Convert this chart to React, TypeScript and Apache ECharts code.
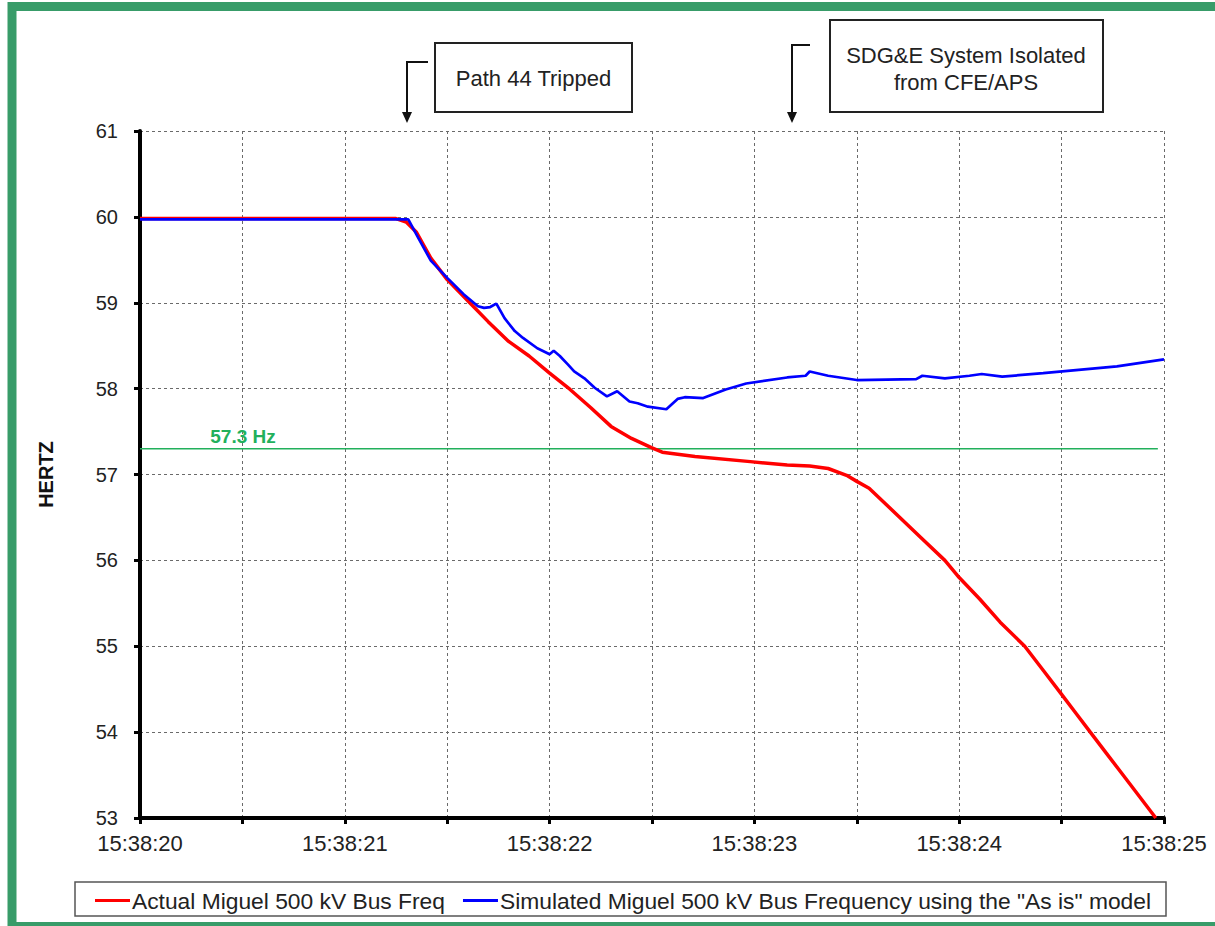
import React, { useEffect, useRef } from "react";
import * as echarts from "echarts";

// x values are seconds after 15:38:00
const xTickSeconds = [20, 21, 22, 23, 24, 25];
const xTickLabels = ["15:38:20", "15:38:21", "15:38:22", "15:38:23", "15:38:24", "15:38:25"];

const actualName = "Actual Miguel 500 kV Bus Freq";
const simName = 'Simulated Miguel 500 kV Bus Frequency using the "As is" model';

const actualT = [
  20, 21.25, 21.3, 21.35, 21.42, 21.5, 21.61, 21.7, 21.8, 21.9, 22.0, 22.1, 22.2, 22.3, 22.4, 22.5,
  22.55, 22.71, 22.98, 23.16, 23.27, 23.36, 23.45, 23.5, 23.56, 23.71, 23.82, 23.93, 24.0, 24.1,
  24.2, 24.32, 24.41, 24.5, 24.57, 24.64, 24.72, 24.8, 24.88, 24.96,
];
const actualHz = [
  59.98, 59.98, 59.94, 59.82, 59.52, 59.27, 59.0, 58.78, 58.55, 58.38, 58.18, 57.99, 57.78, 57.56,
  57.42, 57.31, 57.26, 57.21, 57.15, 57.11, 57.1, 57.07, 56.99, 56.92, 56.84, 56.5, 56.25, 56.0,
  55.8, 55.55, 55.28, 55.0, 54.72, 54.44, 54.22, 54.0, 53.75, 53.5, 53.25, 53.0,
];

const simT = [
  20, 21.31, 21.36, 21.42, 21.5, 21.58, 21.65, 21.68, 21.71, 21.74, 21.78, 21.83, 21.87, 21.94, 22.0,
  22.02, 22.05, 22.09, 22.12, 22.17, 22.22, 22.28, 22.33, 22.39, 22.43, 22.48, 22.57, 22.625, 22.66,
  22.75, 22.86, 22.96, 23.16, 23.25, 23.27, 23.36, 23.5, 23.79, 23.82, 23.93, 24.05, 24.11, 24.21,
  24.41, 24.77, 25.0,
];
const simHz = [
  59.97, 59.97, 59.75, 59.49, 59.29, 59.1, 58.96, 58.94, 58.95, 58.99, 58.82, 58.67, 58.59, 58.47,
  58.4, 58.44, 58.38, 58.28, 58.2, 58.12, 58.01, 57.91, 57.97, 57.85, 57.83, 57.79, 57.76, 57.88,
  57.9, 57.89, 57.99, 58.06, 58.13, 58.15, 58.2, 58.15, 58.1, 58.11, 58.15, 58.12, 58.15, 58.17,
  58.14, 58.18, 58.26, 58.34,
];

const thresholdHz = 57.3;
const thresholdT = [20, 24.97];
const thresholdLabel = "57.3 Hz";

const annotation1 = "Path 44 Tripped";
const annotation2 = ["SDG&E System Isolated", "from CFE/APS"];

const FONT = '"Liberation Sans", Arial, sans-serif';
const GREEN_BORDER = "#389c69";
const GREEN_LINE = "#22b05c";

export default function App() {
  const ref = useRef<HTMLDivElement>(null);

  useEffect(() => {
    if (!ref.current) return;
    const chart = echarts.init(ref.current, null, { renderer: "svg" });

    const actualData = actualT.map((t, i) => [t, actualHz[i]]);
    const simData = simT.map((t, i) => [t, simHz[i]]);
    const thrData = thresholdT.map((t) => [t, thresholdHz]);

    const gridStyle = { color: "#6a6a6a", width: 1, type: [3, 3] as any };

    chart.setOption({
      animation: false,
      backgroundColor: "#ffffff",
      textStyle: { fontFamily: FONT },
      grid: { left: 140, right: 51, top: 131, bottom: 108, containLabel: false },
      xAxis: {
        type: "value",
        min: 20,
        max: 25,
        interval: 0.5,
        axisLine: { show: true, lineStyle: { color: "#000", width: 4 } },
        axisTick: { show: true, length: 6, lineStyle: { color: "#000", width: 3 } },
        splitLine: { show: true, lineStyle: gridStyle },
        axisLabel: {
          fontSize: 22,
          color: "#222",
          margin: 14,
          fontFamily: FONT,
          formatter: (v: number) => {
            const i = xTickSeconds.findIndex((s) => Math.abs(s - v) < 1e-6);
            return i >= 0 ? xTickLabels[i] : "";
          },
        },
      },
      yAxis: {
        type: "value",
        min: 53,
        max: 61,
        interval: 1,
        name: "HERTZ",
        nameLocation: "middle",
        nameRotate: 90,
        nameGap: 84,
        nameTextStyle: { fontSize: 20, fontWeight: "bold", color: "#111", fontFamily: FONT },
        axisLine: { show: true, lineStyle: { color: "#000", width: 4 } },
        axisTick: { show: true, length: 6, lineStyle: { color: "#000", width: 3 } },
        splitLine: { show: true, lineStyle: gridStyle },
        axisLabel: { fontSize: 20, color: "#222", margin: 22, fontFamily: FONT },
      },
      legend: {
        left: 90,
        top: 884,
        itemWidth: 35,
        itemHeight: 3,
        itemGap: 18,
        icon: "rect",
        textStyle: { fontSize: 22.8, color: "#222", fontFamily: FONT, padding: [0, 0, 0, -3] },
        data: [
          { name: actualName, itemStyle: { color: "#ff0000" } },
          { name: simName, itemStyle: { color: "#0000ff" } },
        ],
      },
      series: [
        {
          name: actualName,
          type: "line",
          data: actualData,
          showSymbol: false,
          symbol: "none",
          lineStyle: { color: "#ff0000", width: 3.5 },
          itemStyle: { color: "#ff0000" },
          z: 3,
        },
        {
          name: simName,
          type: "line",
          data: simData,
          showSymbol: false,
          symbol: "none",
          lineStyle: { color: "#0000ff", width: 2.7 },
          itemStyle: { color: "#0000ff" },
          z: 4,
        },
        {
          name: "threshold",
          type: "line",
          data: thrData,
          showSymbol: false,
          symbol: "none",
          lineStyle: { color: GREEN_LINE, width: 1.5 },
          z: 2,
        },
      ],
      graphic: [
        // outer green frame
        {
          type: "rect",
          shape: { x: 12, y: 6.5, width: 1240, height: 920 },
          style: { fill: "none", stroke: GREEN_BORDER, lineWidth: 9 },
          z: 100,
        },
        // legend box
        {
          type: "rect",
          shape: { x: 75, y: 882, width: 1091, height: 34 },
          style: { fill: "none", stroke: "#555", lineWidth: 1.5 },
          z: 50,
        },
        // threshold label
        {
          type: "text",
          x: 243,
          y: 436,
          style: {
            text: thresholdLabel,
            fill: GREEN_LINE,
            font: `bold 19px ${FONT}`,
            align: "center",
            verticalAlign: "middle",
          },
          z: 60,
        },
        // annotation 1
        {
          type: "rect",
          shape: { x: 435, y: 43, width: 197, height: 69 },
          style: { fill: "#fff", stroke: "#222", lineWidth: 2 },
          z: 60,
        },
        {
          type: "text",
          x: 533.5,
          y: 78,
          style: {
            text: annotation1,
            fill: "#222",
            font: `22px ${FONT}`,
            align: "center",
            verticalAlign: "middle",
          },
          z: 61,
        },
        {
          type: "polyline",
          shape: { points: [[428, 62], [407, 62], [407, 114]] },
          style: { stroke: "#111", lineWidth: 2, fill: "none" },
          z: 60,
        },
        {
          type: "polygon",
          shape: { points: [[402, 112], [412, 112], [407, 123]] },
          style: { fill: "#111" },
          z: 60,
        },
        // annotation 2
        {
          type: "rect",
          shape: { x: 830, y: 20, width: 273, height: 92 },
          style: { fill: "#fff", stroke: "#222", lineWidth: 2 },
          z: 60,
        },
        {
          type: "text",
          x: 966,
          y: 55,
          style: {
            text: annotation2[0],
            fill: "#222",
            font: `22px ${FONT}`,
            align: "center",
            verticalAlign: "middle",
          },
          z: 61,
        },
        {
          type: "text",
          x: 966,
          y: 82,
          style: {
            text: annotation2[1],
            fill: "#222",
            font: `22px ${FONT}`,
            align: "center",
            verticalAlign: "middle",
          },
          z: 61,
        },
        {
          type: "polyline",
          shape: { points: [[810, 45], [792, 45], [792, 114]] },
          style: { stroke: "#111", lineWidth: 2, fill: "none" },
          z: 60,
        },
        {
          type: "polygon",
          shape: { points: [[787, 112], [797, 112], [792, 123]] },
          style: { fill: "#111" },
          z: 60,
        },
      ],
    });

    return () => {
      chart.dispose();
    };
  }, []);

  return (
    <div
      ref={ref}
      style={{ position: "absolute", left: 0, top: 0, width: 1215, height: 926, background: "#fff" }}
    />
  );
}
